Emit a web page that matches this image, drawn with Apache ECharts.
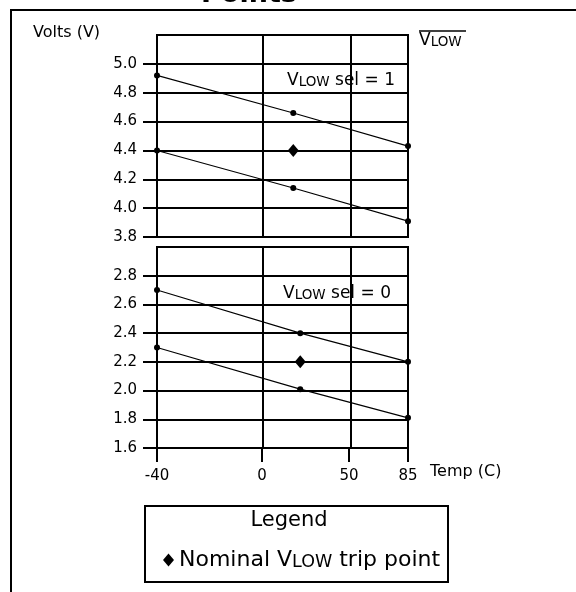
<!DOCTYPE html>
<html><head><meta charset="utf-8">
<script src="https://cdn.jsdelivr.net/npm/echarts@6/dist/echarts.min.js"></script>
<style>html,body{margin:0;padding:0;background:#fff}#c{width:576px;height:592px}</style>
</head><body><div id="c"></div>
<script>
// ---------- data ----------
const TEMP_TICKS = [-40, 0, 50, 85];
const Y_TICKS_SEL1 = [3.8, 4.0, 4.2, 4.4, 4.6, 4.8, 5.0];
const Y_TICKS_SEL0 = [1.6, 1.8, 2.0, 2.2, 2.4, 2.6, 2.8];
const SEL1_TEMP = [-40, 18, 85];
const SEL1_UPPER = [4.92, 4.66, 4.43];
const SEL1_LOWER = [4.40, 4.14, 3.91];
const SEL1_NOMINAL_T = [18];
const SEL1_NOMINAL_V = [4.40];
const SEL0_TEMP = [-40, 22, 85];
const SEL0_UPPER = [2.70, 2.40, 2.20];
const SEL0_LOWER = [2.30, 2.01, 1.81];
const SEL0_NOMINAL_T = [22];
const SEL0_NOMINAL_V = [2.20];
const LEGEND_NAME = 'Nominal VLOW trip point';

// ---------- non-linear temperature scale (schematic axis of the original) ----------
const TICK_FRAC = [0, 0.418, 0.765, 1];
function warp(t) {
  const n = TEMP_TICKS.length;
  for (let i = 0; i < n - 1; i++) {
    const a = TEMP_TICKS[i], b = TEMP_TICKS[i + 1];
    if (t <= b || i === n - 2) {
      return TICK_FRAC[i] + (t - a) / (b - a) * (TICK_FRAC[i + 1] - TICK_FRAC[i]);
    }
  }
}
const pts = (ts, vs) => ts.map((t, i) => [warp(t), vs[i]]);
const tickPos = TEMP_TICKS.map(warp);
const tempLabel = v => {
  let best = 0;
  tickPos.forEach((p, i) => { if (Math.abs(p - v) < Math.abs(tickPos[best] - v)) best = i; });
  return String(TEMP_TICKS[best]);
};

const FONT = 'DejaVu Sans';
const BLACK = '#000';

function xAxisDef(gridIndex, visible) {
  return {
    type: 'value', gridIndex, min: 0, max: 1,
    axisLine: { show: false },
    splitLine: { show: false },
    axisTick: { show: visible, customValues: tickPos, length: 14, inside: false,
                lineStyle: { color: BLACK, width: 2 } },
    axisLabel: { show: visible, customValues: tickPos, formatter: tempLabel, margin: 21,
                 color: BLACK, fontFamily: FONT, fontSize: 15 }
  };
}
function yAxisDef(gridIndex, min, max, ticks) {
  return {
    type: 'value', gridIndex, min, max, interval: 0.2,
    axisLine: { show: false },
    splitLine: { show: true, lineStyle: { color: BLACK, width: 2 } },
    axisTick: { show: true, customValues: ticks, length: 14, inside: false,
                lineStyle: { color: BLACK, width: 2 } },
    axisLabel: { show: true, customValues: ticks, formatter: v => Number(v).toFixed(1), margin: 20,
                 color: BLACK, fontFamily: FONT, fontSize: 15 }
  };
}
function vGrid() {
  return {
    silent: true, symbol: ['none', 'none'], label: { show: false },
    lineStyle: { color: BLACK, width: 2, type: 'solid', opacity: 1 },
    data: tickPos.map(p => ({ xAxis: p }))
  };
}
function lineSeries(idx, data, withGrid) {
  const s = {
    type: 'line', xAxisIndex: idx, yAxisIndex: idx, data,
    symbol: 'circle', symbolSize: 6, showSymbol: true,
    lineStyle: { color: BLACK, width: 1.1 }, itemStyle: { color: BLACK, opacity: 1 },
    z: 5, silent: true
  };
  if (withGrid) s.markLine = vGrid();
  return s;
}
function nominalSeries(idx, data) {
  return {
    name: LEGEND_NAME, type: 'scatter', xAxisIndex: idx, yAxisIndex: idx, data,
    symbol: 'diamond', symbolSize: [11, 13], itemStyle: { color: BLACK, opacity: 1 }, z: 6
  };
}

const chart = echarts.init(document.getElementById('c'), null, { renderer: 'canvas' });
const gridCommon = { show: true, borderColor: BLACK, borderWidth: 2, backgroundColor: 'transparent', containLabel: false, outerBoundsMode: 'none' };
const richV = (size) => ({
  a: { fontFamily: FONT, fontSize: size, fill: BLACK, color: BLACK, verticalAlign: 'bottom' },
  b: { fontFamily: FONT, fontSize: Math.round(size * 0.8 * 2) / 2, fill: BLACK, color: BLACK, verticalAlign: 'bottom' }
});
chart.setOption({
  animation: false,
  backgroundColor: '#fff',
  grid: [
    Object.assign({ left: 157, top: 35, width: 251, height: 202 }, gridCommon),
    Object.assign({ left: 157, top: 247, width: 251, height: 201 }, gridCommon)
  ],
  xAxis: [xAxisDef(0, false), xAxisDef(1, true)],
  yAxis: [yAxisDef(0, 3.8, 5.2, Y_TICKS_SEL1), yAxisDef(1, 1.6, 3.0, Y_TICKS_SEL0)],
  legend: {
    data: [{ name: LEGEND_NAME, icon: 'diamond', itemStyle: { color: BLACK, opacity: 1 } }],
    left: 163, top: 549, padding: 0, itemWidth: 11, itemHeight: 13,
    selectedMode: false,
    formatter: () => '{n|Nominal V}{s|LOW}{n| trip point}',
    textStyle: {
      color: BLACK, fontFamily: FONT, fontSize: 22,
      rich: {
        n: { fontFamily: FONT, fontSize: 22, color: BLACK, verticalAlign: 'bottom' },
        s: { fontFamily: FONT, fontSize: 17.5, color: BLACK, verticalAlign: 'bottom' }
      }
    }
  },
  series: [
    lineSeries(0, pts(SEL1_TEMP, SEL1_UPPER), true),
    lineSeries(0, pts(SEL1_TEMP, SEL1_LOWER), false),
    nominalSeries(0, pts(SEL1_NOMINAL_T, SEL1_NOMINAL_V)),
    lineSeries(1, pts(SEL0_TEMP, SEL0_UPPER), true),
    lineSeries(1, pts(SEL0_TEMP, SEL0_LOWER), false),
    nominalSeries(1, pts(SEL0_NOMINAL_T, SEL0_NOMINAL_V))
  ],
  graphic: [
    { type: 'polyline', silent: true, shape: { points: [[11, 592], [11, 10], [576, 10]] },
      style: { stroke: BLACK, lineWidth: 2, fill: null } },
    { type: 'text', silent: true, x: 249, y: 8,
      style: { text: 'Points', font: 'bold 27px "DejaVu Sans"', fill: BLACK,
               align: 'center', verticalAlign: 'bottom', textAlign: 'center', textVerticalAlign: 'bottom' } },
    { type: 'text', silent: true, x: 33, y: 33,
      style: { text: 'Volts (V)', font: '16px "DejaVu Sans"', fill: BLACK,
               align: 'left', verticalAlign: 'middle', textAlign: 'left', textVerticalAlign: 'middle' } },
    { type: 'line', silent: true, shape: { x1: 419, y1: 31, x2: 466, y2: 31 },
      style: { stroke: BLACK, lineWidth: 1.5 } },
    { type: 'text', silent: true, x: 419, y: 41,
      style: { text: '{a|V}{b|LOW}', fill: BLACK, align: 'left', verticalAlign: 'middle',
               textAlign: 'left', textVerticalAlign: 'middle', rich: richV(17) } },
    { type: 'text', silent: true, x: 287, y: 81,
      style: { text: '{a|V}{b|LOW}{a| sel = 1}', fill: BLACK, align: 'left', verticalAlign: 'middle',
               textAlign: 'left', textVerticalAlign: 'middle', rich: richV(17) } },
    { type: 'text', silent: true, x: 283, y: 294,
      style: { text: '{a|V}{b|LOW}{a| sel = 0}', fill: BLACK, align: 'left', verticalAlign: 'middle',
               textAlign: 'left', textVerticalAlign: 'middle', rich: richV(17) } },
    { type: 'text', silent: true, x: 430, y: 472,
      style: { text: 'Temp (C)', font: '16px "DejaVu Sans"', fill: BLACK,
               align: 'left', verticalAlign: 'middle', textAlign: 'left', textVerticalAlign: 'middle' } },
    { type: 'rect', silent: true, shape: { x: 145, y: 506, width: 303, height: 76 },
      style: { stroke: BLACK, lineWidth: 2, fill: null } },
    { type: 'text', silent: true, x: 289, y: 521,
      style: { text: 'Legend', font: '21px "DejaVu Sans"', fill: BLACK,
               align: 'center', verticalAlign: 'middle', textAlign: 'center', textVerticalAlign: 'middle' } }
  ]
});
</script>
</body></html>
